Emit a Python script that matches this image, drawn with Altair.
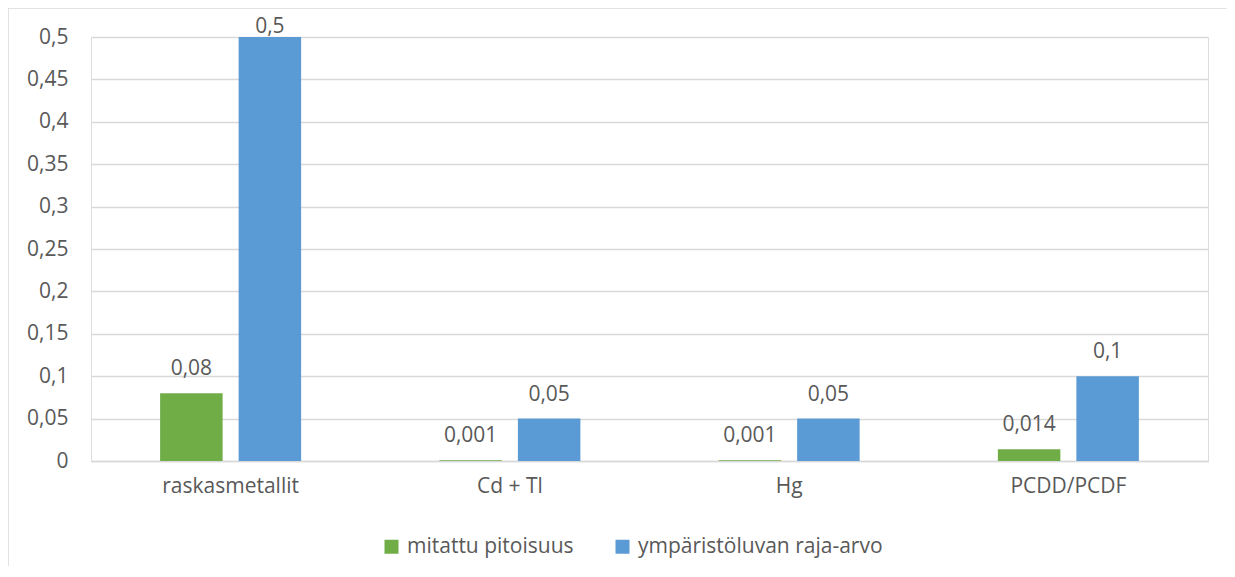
import altair as alt
import pandas as pd

categories = ["raskasmetallit", "Cd + Tl", "Hg", "PCDD/PCDF"]
series = ["mitattu pitoisuus", "ympäristöluvan raja-arvo"]
measured = [0.08, 0.001, 0.001, 0.014]
limit = [0.5, 0.05, 0.05, 0.1]
colors = ["#70AD47", "#5B9BD5"]
y_ticks = [0, 0.05, 0.1, 0.15, 0.2, 0.25, 0.3, 0.35, 0.4, 0.45, 0.5]

rows = []
for i, c in enumerate(categories):
    rows.append({"cat": c, "series": series[0], "value": measured[i]})
    rows.append({"cat": c, "series": series[1], "value": limit[i]})
df = pd.DataFrame(rows)

FONT = "Open Sans"
FS = 21
TXT = "#595959"
GRID = "#D9D9D9"

x_enc = alt.X("cat:N", sort=categories, title=None,
              scale=alt.Scale(paddingInner=0.495, paddingOuter=0.2475),
              axis=alt.Axis(labelAngle=0, labelFontSize=FS, labelColor=TXT, labelFont=FONT,
                            labelPadding=14, ticks=False, domainColor=GRID, domainWidth=1.5))
xo_enc = alt.XOffset("series:N", sort=series,
                     scale=alt.Scale(paddingInner=0.204, paddingOuter=0))
y_enc = alt.Y("value:Q", title=None,
              scale=alt.Scale(domain=[0, 0.5], nice=False),
              axis=alt.Axis(values=y_ticks, labelExpr="replace(format(datum.value, '~g'), '.', ',')",
                            labelFontSize=FS, labelColor=TXT, labelFont=FONT, labelPadding=23,
                            ticks=False, domain=False, gridColor=GRID, gridWidth=1.5))

base = alt.Chart(df)

bars = base.mark_bar().encode(
    x=x_enc, xOffset=xo_enc, y=y_enc,
    color=alt.Color("series:N", sort=series, title=None,
                    scale=alt.Scale(domain=series, range=colors),
                    legend=alt.Legend(orient="none", legendX=290, legendY=499, direction="horizontal",
                                      symbolType="square", symbolSize=196, symbolStrokeWidth=0,
                                      labelFontSize=FS, labelColor=TXT, labelFont=FONT,
                                      labelOffset=5, columnPadding=38, labelLimit=0)),
)

labels = base.transform_calculate(
    lbl="replace(format(datum.value, '~g'), '.', ',')",
    ly="min(datum.value + 0.0283, 0.512)",
).mark_text(fontSize=FS, font=FONT, color=TXT, baseline="middle").encode(
    x=alt.X("cat:N", sort=categories), xOffset=alt.XOffset("series:N", sort=series),
    y=alt.Y("ly:Q"),
    text="lbl:N",
)

border_left = alt.Chart(pd.DataFrame({"a": [0]})).mark_rule(color=GRID, strokeWidth=1.5).encode(
    x=alt.value(-83), y=alt.value(-29), y2=alt.value(700))
border_top = alt.Chart(pd.DataFrame({"a": [0]})).mark_rule(color=GRID, strokeWidth=1.5).encode(
    x=alt.value(-83), x2=alt.value(1300), y=alt.value(-29))

chart = alt.layer(bars, labels, border_left, border_top).properties(
    width=1117, height=424,
    padding={"left": 83, "top": 29, "right": 19, "bottom": 105},
    autosize=alt.AutoSizeParams(type="none"),
).configure_view(stroke=None).configure(font=FONT)

chart.save("out.html", embed_options={"renderer": "svg", "actions": False})
